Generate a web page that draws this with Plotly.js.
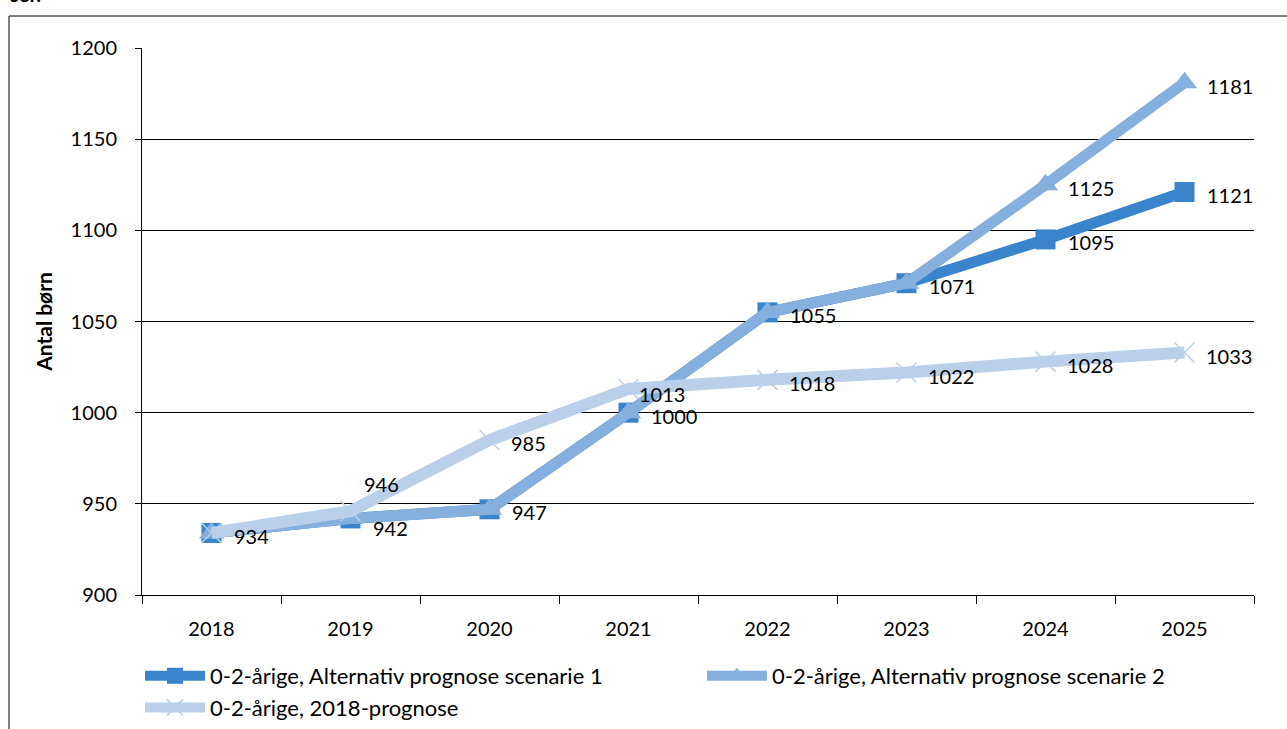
<!DOCTYPE html>
<html>
<head>
<meta charset="utf-8">
<script src="https://cdn.plot.ly/plotly-3.0.1.min.js"></script>
<style>html,body{margin:0;padding:0;background:#fff}#chart{width:1287px;height:729px}</style>
</head>
<body>
<div id="chart"></div>
<script>
const years = ['2018','2019','2020','2021','2022','2023','2024','2025'];
const scenario1 = [934, 942, 947, 1000, 1055, 1071, 1095, 1121];
const scenario2 = [934, 942, 947, 1000, 1055, 1071, 1125, 1181];
const prognose2018 = [934, 946, 985, 1013, 1018, 1022, 1028, 1033];
const names = ['0-2-årige, Alternativ prognose scenarie 1', '0-2-årige, Alternativ prognose scenarie 2', '0-2-årige, 2018-prognose'];
const yTicks = [900, 950, 1000, 1050, 1100, 1150, 1200];

const FONT = 'Lato, "Open Sans", sans-serif';
const c1 = '#3A84CB', c2 = '#85AFDD', c3 = '#B9CFEA';

const traces = [
  {
    x: years, y: scenario1, name: names[0], type: 'scatter', mode: 'lines+markers',
    line: {color: c1, width: 11},
    marker: {symbol: 'square', size: 20, color: c1}
  },
  {
    x: years, y: scenario2, name: names[1], type: 'scatter', mode: 'lines+markers',
    line: {color: c2, width: 11},
    marker: {symbol: 'triangle-up', size: 22, color: c2}
  },
  {
    x: years, y: prognose2018, name: names[2], type: 'scatter', mode: 'lines+markers',
    line: {color: c3, width: 12},
    marker: {symbol: 'x-thin-open', size: 20, color: c3, line: {color: c3, width: 1.5}}
  }
];

// data labels: category index i on the x axis, value on the y axis
const labels = [];
function addLabel(i, y, dx, dy) {
  labels.push({x: i, y: y, xref: 'x', yref: 'y', text: String(y), showarrow: false,
    xanchor: 'left', yanchor: 'middle', xshift: dx, yshift: dy,
    font: {family: FONT, size: 20, color: '#000'}});
}
scenario1.forEach((v, i) => addLabel(i, v, 20, i === 1 ? -10 : -3));
scenario2.forEach((v, i) => { if (i >= 6) addLabel(i, v, 20, -3); });
prognose2018.forEach((v, i) => {
  if (i === 0) return;
  if (i === 1) addLabel(i, v, 11, 27);
  else if (i === 3) addLabel(i, v, 8, -5);
  else addLabel(i, v, 19, -3);
});

const L = 142, R = 33, T = 48, B = 134;
const pw = 1287 - L - R, ph = 729 - T - B;
const px = v => (v - L) / pw;
const py = v => (729 - B - v) / ph;

const layout = {
  width: 1287, height: 729,
  margin: {l: L, r: R, t: T, b: B, autoexpand: false},
  paper_bgcolor: '#fff', plot_bgcolor: '#fff',
  font: {family: FONT, size: 20, color: '#000'},
  showlegend: true,
  legend: {
    orientation: 'h', x: px(140), y: py(655), xanchor: 'left', yanchor: 'top',
    itemwidth: 60, entrywidth: 487, tracegroupgap: 0,
    font: {family: FONT, size: 22, color: '#000'},
    bgcolor: 'rgba(0,0,0,0)'
  },
  xaxis: {
    type: 'category', showgrid: false, zeroline: false,
    showline: true, linecolor: '#000', linewidth: 1,
    ticks: 'outside', tickson: 'boundaries', ticklen: 8, tickcolor: '#000',
    ticklabelstandoff: 16,
    tickfont: {family: FONT, size: 20, color: '#000'},
    range: [-0.5, 7.5]
  },
  yaxis: {
    range: [900, 1200], tickvals: yTicks, ticktext: yTicks.map(String),
    showgrid: true, gridcolor: '#000', gridwidth: 1, zeroline: false,
    showline: true, linecolor: '#000', linewidth: 1,
    ticks: 'outside', ticklen: 6, tickcolor: '#000',
    ticklabelstandoff: 14,
    tickfont: {family: FONT, size: 20, color: '#000'},
    title: {text: '<b>Antal børn</b>', font: {family: FONT, size: 21, color: '#000'}, standoff: 12}
  },
  shapes: [
    {type: 'line', xref: 'paper', yref: 'paper', x0: px(9), x1: px(9), y0: py(16), y1: py(760), line: {color: '#000', width: 1}},
    {type: 'line', xref: 'paper', yref: 'paper', x0: px(9), x1: px(1300), y0: py(16), y1: py(16), line: {color: '#000', width: 1}}
  ],
  annotations: labels.concat([
    {text: '<b>ser.</b>', xref: 'paper', yref: 'paper', x: px(8), y: py(8), xanchor: 'left', yanchor: 'bottom', showarrow: false, font: {family: FONT, size: 20, color: '#000'}}
  ])
};

Plotly.newPlot('chart', traces, layout, {displayModeBar: false, staticPlot: true});
</script>
</body>
</html>
